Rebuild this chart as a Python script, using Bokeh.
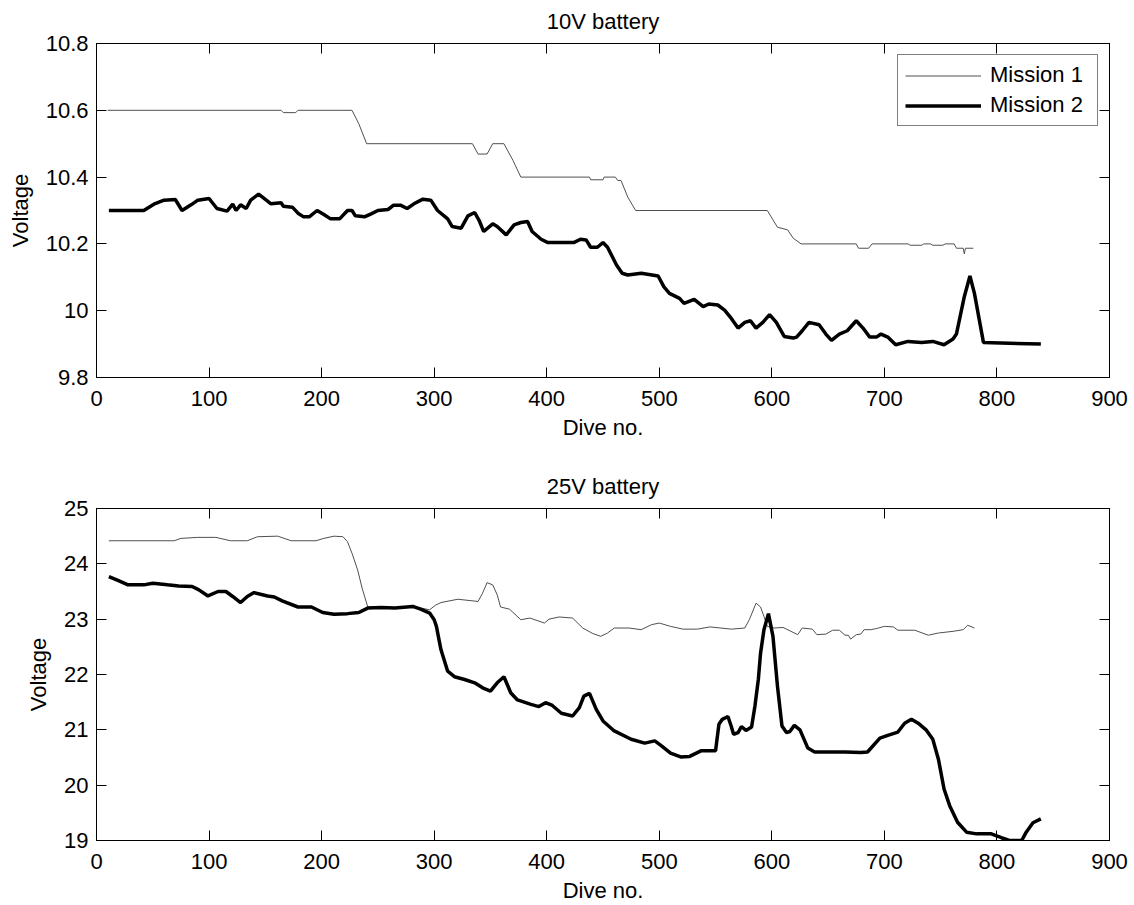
from bokeh.plotting import figure
from bokeh.layouts import column
from bokeh.models import Range1d, FixedTicker, LinearAxis, CustomJSTickFormatter
from bokeh.embed import file_html
from bokeh.resources import INLINE

# ---------------- data ----------------
x_ticks = [0, 100, 200, 300, 400, 500, 600, 700, 800, 900]
y_ticks_10v = [9.8, 10.0, 10.2, 10.4, 10.6, 10.8]
y_ticks_25v = [19, 20, 21, 22, 23, 24, 25]

titles = ["10V battery", "25V battery"]
series_names = ["Mission 1", "Mission 2"]

m1_10v_dive = [10, 164, 166, 177, 179, 227, 233, 240, 334, 339, 347, 352, 362, 370, 377,
               438, 439, 450, 451, 461, 463, 466, 472, 479, 596, 601, 605, 614, 619, 626,
               675, 677, 686, 689, 721, 723, 733, 735, 741, 743, 752, 754, 762, 764, 770,
               771, 772, 779]
m1_10v_volt = [10.6, 10.6, 10.593, 10.593, 10.6, 10.6, 10.56, 10.5, 10.5, 10.469, 10.469, 10.5, 10.5, 10.45, 10.4,
               10.4, 10.392, 10.392, 10.4, 10.4, 10.39, 10.39, 10.34, 10.3, 10.3, 10.272, 10.25, 10.242, 10.217, 10.2,
               10.2, 10.187, 10.187, 10.2, 10.2, 10.196, 10.196, 10.2, 10.2, 10.196, 10.196, 10.2, 10.2, 10.187, 10.187,
               10.17, 10.187, 10.187]

m2_10v_dive = [11, 42, 51, 60, 70, 76, 84, 90, 100, 107, 116, 121, 124, 128, 133, 137, 144, 150, 155, 164,
               166, 174, 179, 184, 189, 196, 202, 208, 216, 223, 227, 230, 238, 244, 250, 259, 264, 270, 276, 282,
               290, 297, 303, 312, 316, 324, 330, 336, 340, 344, 352, 356, 364, 371, 377, 383, 387, 395, 401, 424,
               430, 435, 439, 445, 450, 454, 462, 467, 472, 484, 499, 504, 509, 518, 522, 531, 539, 544, 552, 558,
               564, 570, 576, 581, 586, 592, 598, 604, 611, 619, 622, 627, 633, 642, 648, 653, 660, 667, 675, 681,
               687, 693, 697, 703, 710, 721, 733, 743, 753, 761, 764, 771, 776, 780, 788, 839]
m2_10v_volt = [10.3, 10.3, 10.319, 10.331, 10.333, 10.30, 10.317, 10.331, 10.336, 10.306, 10.298, 10.319, 10.30, 10.317, 10.306, 10.331, 10.349, 10.333, 10.32, 10.323,
               10.313, 10.31, 10.292, 10.281, 10.281, 10.30, 10.288, 10.275, 10.275, 10.30, 10.30, 10.284, 10.281, 10.29, 10.30, 10.303, 10.316, 10.316, 10.306, 10.32,
               10.334, 10.331, 10.30, 10.275, 10.252, 10.247, 10.284, 10.294, 10.27, 10.237, 10.26, 10.252, 10.227, 10.257, 10.264, 10.267, 10.237, 10.214, 10.204, 10.204,
               10.214, 10.212, 10.19, 10.19, 10.204, 10.19, 10.137, 10.112, 10.107, 10.112, 10.104, 10.072, 10.052, 10.037, 10.022, 10.034, 10.012, 10.02, 10.017, 10.002,
               9.977, 9.948, 9.965, 9.97, 9.948, 9.965, 9.988, 9.965, 9.923, 9.918, 9.921, 9.94, 9.965, 9.958, 9.93, 9.911, 9.93, 9.94, 9.97, 9.948,
               9.921, 9.921, 9.93, 9.921, 9.898, 9.908, 9.905, 9.908, 9.898, 9.915, 9.93, 10.042, 10.104, 10.052, 9.905, 9.9]

m1_25v_dive = [11, 69, 75, 90, 106, 119, 134, 143, 161, 173, 195, 202, 211, 219, 223, 227, 232, 236, 241, 253,
               265, 281, 288, 296, 301, 306, 321, 339, 343, 347, 352, 356, 359, 367, 377, 385, 398, 402, 411, 423,
               432, 441, 448, 454, 460, 473, 484, 493, 500, 510, 521, 534, 545, 564, 576, 580, 586, 590, 593, 596,
               602, 610, 617, 623, 627, 636, 640, 648, 654, 660, 665, 668, 670, 675, 679, 682, 688, 693, 700, 708,
               712, 727, 739, 748, 761, 770, 774, 780]
m1_25v_volt = [24.417, 24.417, 24.46, 24.478, 24.478, 24.417, 24.417, 24.49, 24.5, 24.417, 24.417, 24.46, 24.5, 24.49, 24.4, 24.19, 23.89, 23.56, 23.22, 23.2,
               23.2, 23.23, 23.2, 23.17, 23.25, 23.30, 23.36, 23.32, 23.47, 23.66, 23.62, 23.44, 23.22, 23.18, 22.99, 23.02, 22.93, 23.0, 23.04, 23.02,
               22.84, 22.74, 22.69, 22.75, 22.84, 22.84, 22.81, 22.9, 22.93, 22.87, 22.82, 22.82, 22.86, 22.82, 22.84, 22.99, 23.29, 23.22, 23.05, 22.87,
               22.84, 22.85, 22.78, 22.72, 22.84, 22.82, 22.72, 22.73, 22.80, 22.80, 22.71, 22.71, 22.64, 22.72, 22.73, 22.81, 22.81, 22.83, 22.87, 22.86,
               22.8, 22.8, 22.71, 22.75, 22.78, 22.81, 22.89, 22.84]

m2_25v_dive = [11, 19, 28, 42, 50, 63, 73, 85, 91, 99, 108, 115, 121, 128, 134, 140, 152, 158, 165, 179,
               191, 201, 211, 223, 233, 241, 253, 265, 281, 288, 296, 300, 302, 306, 312, 318, 327, 336, 343, 350,
               356, 362, 368, 374, 386, 393, 399, 405, 413, 423, 429, 433, 438, 444, 450, 460, 475, 487, 496, 502,
               510, 519, 527, 537, 550, 553, 556, 561, 564, 566, 570, 573, 577, 582, 585, 588, 590, 593, 597, 601,
               605, 609, 613, 616, 620, 625, 632, 638, 665, 679, 685, 696, 703, 712, 718, 724, 730, 737, 743, 748,
               753, 758, 765, 773, 782, 795, 804, 811, 822, 826, 832, 839]
m2_25v_volt = [23.77, 23.70, 23.62, 23.62, 23.65, 23.62, 23.60, 23.59, 23.53, 23.42, 23.5, 23.5, 23.41, 23.30, 23.41, 23.48, 23.42, 23.40, 23.33, 23.22,
               23.22, 23.12, 23.09, 23.10, 23.12, 23.20, 23.21, 23.20, 23.23, 23.18, 23.11, 22.99, 22.87, 22.45, 22.06, 21.96, 21.91, 21.85, 21.76, 21.70,
               21.85, 21.96, 21.67, 21.54, 21.46, 21.42, 21.49, 21.44, 21.30, 21.25, 21.40, 21.61, 21.66, 21.37, 21.16, 20.98, 20.83, 20.76, 20.80, 20.71,
               20.58, 20.51, 20.52, 20.62, 20.62, 21.10, 21.19, 21.24, 21.06, 20.92, 20.95, 21.06, 20.99, 21.05, 21.43, 21.91, 22.39, 22.81, 23.10, 22.69,
               21.79, 21.07, 20.95, 20.97, 21.08, 21.0, 20.67, 20.60, 20.60, 20.59, 20.60, 20.85, 20.90, 20.96, 21.12, 21.19, 21.12, 21.0, 20.83, 20.47,
               19.93, 19.63, 19.33, 19.15, 19.12, 19.12, 19.05, 19.0, 19.0, 19.15, 19.32, 19.39]

# ---------------- styling ----------------
FONT = "Liberation Sans"
FS = "22px"
THIN_COLOR = "#505050"


def style_axis(ax, ticks, show_labels=True):
    ax.ticker = FixedTicker(ticks=ticks)
    ax.major_tick_in = 10
    ax.major_tick_out = 0
    ax.minor_tick_line_color = None
    ax.axis_line_color = "black"
    ax.major_tick_line_color = "black"
    ax.major_label_text_font = FONT
    ax.axis_label_text_font = FONT
    ax.axis_label_text_font_size = FS
    ax.axis_label_text_font_style = "normal"
    ax.axis_label_text_color = "black"
    if show_labels:
        ax.major_label_text_font_size = FS
        ax.major_label_text_color = "black"
    else:
        # mirrored tick marks only: labels are not drawn at all
        ax.major_label_text_font_size = "0px"
        ax.major_label_text_color = None
        ax.major_label_standoff = 0


def make_panel(title, ylo, yhi, yticks, height, top, bottom, xs1, ys1, xs2, ys2, legend, yfmt=None):
    p = figure(width=1134, height=height, output_backend="svg", toolbar_location=None,
               x_range=Range1d(0, 900), y_range=Range1d(ylo, yhi),
               min_border_left=96, min_border_right=25, min_border_top=top, min_border_bottom=bottom)
    p.grid.visible = False
    p.outline_line_color = "black"
    p.background_fill_color = "white"
    p.border_fill_color = "white"

    p.title.text = title
    p.title.align = "center"
    p.title.vertical_align = "top"
    p.title.standoff = 15
    p.title.text_font = FONT
    p.title.text_font_size = FS
    p.title.text_font_style = "normal"
    p.title.text_color = "black"

    style_axis(p.xaxis[0], x_ticks)
    p.xaxis[0].axis_label = "Dive no."
    p.xaxis[0].major_label_standoff = 13
    p.xaxis[0].axis_label_standoff = 6
    style_axis(p.yaxis[0], yticks)
    p.yaxis[0].axis_label = "Voltage"
    p.yaxis[0].major_label_standoff = 8
    p.yaxis[0].axis_label_standoff = 10
    if yfmt is not None:
        p.yaxis[0].formatter = yfmt

    top_ax = LinearAxis()
    style_axis(top_ax, x_ticks, show_labels=False)
    p.add_layout(top_ax, "above")
    right_ax = LinearAxis()
    style_axis(right_ax, yticks, show_labels=False)
    p.add_layout(right_ax, "right")

    if legend:
        p.line(xs1, ys1, line_color=THIN_COLOR, line_width=1, legend_label=series_names[0])
        p.line(xs2, ys2, line_color="black", line_width=3.5, legend_label=series_names[1])
        lg = p.legend[0]
        lg.location = "top_right"
        lg.margin = 11
        lg.padding = 7
        lg.spacing = 4
        lg.glyph_width = 76
        lg.glyph_height = 25
        lg.label_height = 25
        lg.label_width = 100
        lg.label_standoff = 9
        lg.label_text_font = FONT
        lg.label_text_font_size = FS
        lg.label_text_color = "black"
        lg.border_line_color = "black"
        lg.border_line_width = 1
        lg.background_fill_alpha = 1
    else:
        p.line(xs1, ys1, line_color=THIN_COLOR, line_width=1)
        p.line(xs2, ys2, line_color="black", line_width=3.5)
    return p


fmt10 = CustomJSTickFormatter(code="return String(Math.round(tick * 10) / 10);")

p1 = make_panel(titles[0], 9.8, 10.8, y_ticks_10v, 452, 43, 75,
                m1_10v_dive, m1_10v_volt, m2_10v_dive, m2_10v_volt, True, fmt10)
p2 = make_panel(titles[1], 19, 25, y_ticks_25v, 453, 56, 63,
                m1_25v_dive, m1_25v_volt, m2_25v_dive, m2_25v_volt, False)

layout = column(p1, p2)
open("out.html", "w").write(file_html(layout, INLINE))
